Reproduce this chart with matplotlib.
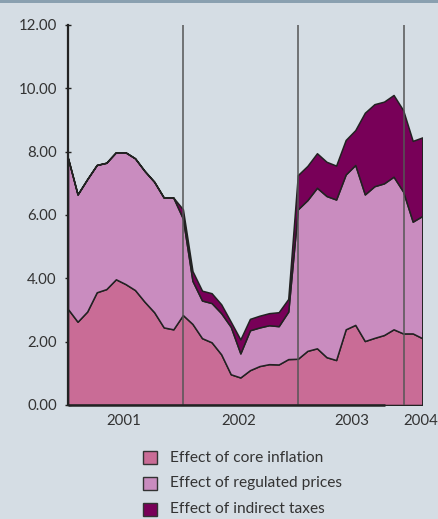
import matplotlib
matplotlib.use("Agg")
import matplotlib.pyplot as plt
from matplotlib.patches import Rectangle
import numpy as np

# ---- data (monthly, Jan 2001 .. Feb 2004) ----
core = [3.03, 2.63, 2.95, 3.56, 3.66, 3.97, 3.82, 3.63, 3.26, 2.93, 2.45, 2.39,
        2.84, 2.56, 2.11, 1.98, 1.60, 0.97, 0.87, 1.10, 1.23, 1.29, 1.28, 1.45,
        1.46, 1.71, 1.79, 1.51, 1.42, 2.39, 2.53, 2.02, 2.12, 2.21, 2.39, 2.26,
        2.26, 2.11]
regulated = [4.76, 4.02, 4.18, 4.02, 3.99, 4.01, 4.16, 4.16, 4.13, 4.12, 4.10, 4.16,
             3.05, 1.36, 1.19, 1.24, 1.30, 1.50, 0.76, 1.26, 1.22, 1.23, 1.21, 1.50,
             4.72, 4.76, 5.07, 5.09, 5.07, 4.89, 5.05, 4.63, 4.79, 4.79, 4.82, 4.48,
             3.53, 3.86]
indirect = [0.00, 0.00, 0.00, 0.00, 0.00, 0.00, 0.00, 0.00, 0.00, 0.00, 0.00, 0.00,
            0.29, 0.31, 0.31, 0.31, 0.28, 0.16, 0.44, 0.36, 0.37, 0.38, 0.44, 0.40,
            1.08, 1.08, 1.09, 1.08, 1.07, 1.09, 1.10, 2.58, 2.59, 2.58, 2.58, 2.57,
            2.55, 2.48]
series_labels = ["Effect of core inflation", "Effect of regulated prices",
                 "Effect of indirect taxes"]
year_labels = ["2001", "2002", "2003", "2004"]
year_label_pos = [5.85, 17.86, 29.6, 36.8]
year_divider_pos = [12, 24, 35.1]
y_ticks = [0, 2, 4, 6, 8, 10, 12]

colors = ["#c96c96", "#c98cbf", "#780058"]
bg = "#d5dde4"
txt = "#333333"

plt.rcParams["font.family"] = ["Lato", "DejaVu Sans"]

fig = plt.figure(figsize=(4.38, 5.19), dpi=100, facecolor=bg)
# top stripe
fig.patches.append(Rectangle((0, 1 - 3 / 519), 1, 3 / 519, transform=fig.transFigure,
                             facecolor="#8aa0b0", edgecolor="none"))

ax = fig.add_axes([68 / 438, 114 / 519, 354.3 / 438, 380 / 519])
ax.set_facecolor(bg)
x = np.arange(len(core))
ax.stackplot(x, core, regulated, indirect, colors=colors,
             edgecolor="#222222", linewidth=1.1, zorder=2)

for xv in year_divider_pos:
    ax.plot([xv, xv], [0, 12], color="#555555", lw=1.1, zorder=3)

ax.set_xlim(0, len(core) - 1)
ax.set_ylim(0, 12)
for s in ["top", "right", "bottom"]:
    ax.spines[s].set_visible(False)
ax.spines["left"].set_color("#222222")
ax.spines["left"].set_linewidth(1.6)
ax.spines["left"].set_zorder(4)
# bottom axis line
ax.plot([0, 33.1], [0, 0], color="#222222", lw=1.8, zorder=4, clip_on=False,
        solid_capstyle="butt")

ax.set_yticks(y_ticks)
ax.set_yticklabels([f"{v:.2f}" for v in y_ticks])
ax.tick_params(axis="y", direction="inout", length=4, width=1, color="#222222",
               labelsize=10.8, labelcolor=txt, pad=6)
ax.set_xticks([])
for lab, pos in zip(year_labels, year_label_pos):
    ax.text(pos, -0.52, lab, ha="center", va="center", fontsize=10.8, color=txt,
            transform=ax.transData)

# legend
leg_y = [457.5, 483.3, 509.3]
for lab, col, yy in zip(series_labels, colors, leg_y):
    fig.patches.append(Rectangle((143 / 438, 1 - (yy + 6.8) / 519), 14 / 438, 13.6 / 519,
                                 transform=fig.transFigure, facecolor=col,
                                 edgecolor="#333333", linewidth=1.0))
    fig.text(170 / 438, 1 - yy / 519, lab, ha="left", va="center", fontsize=11.2,
             color=txt)

fig.savefig("out.png", dpi=100, facecolor=bg)
